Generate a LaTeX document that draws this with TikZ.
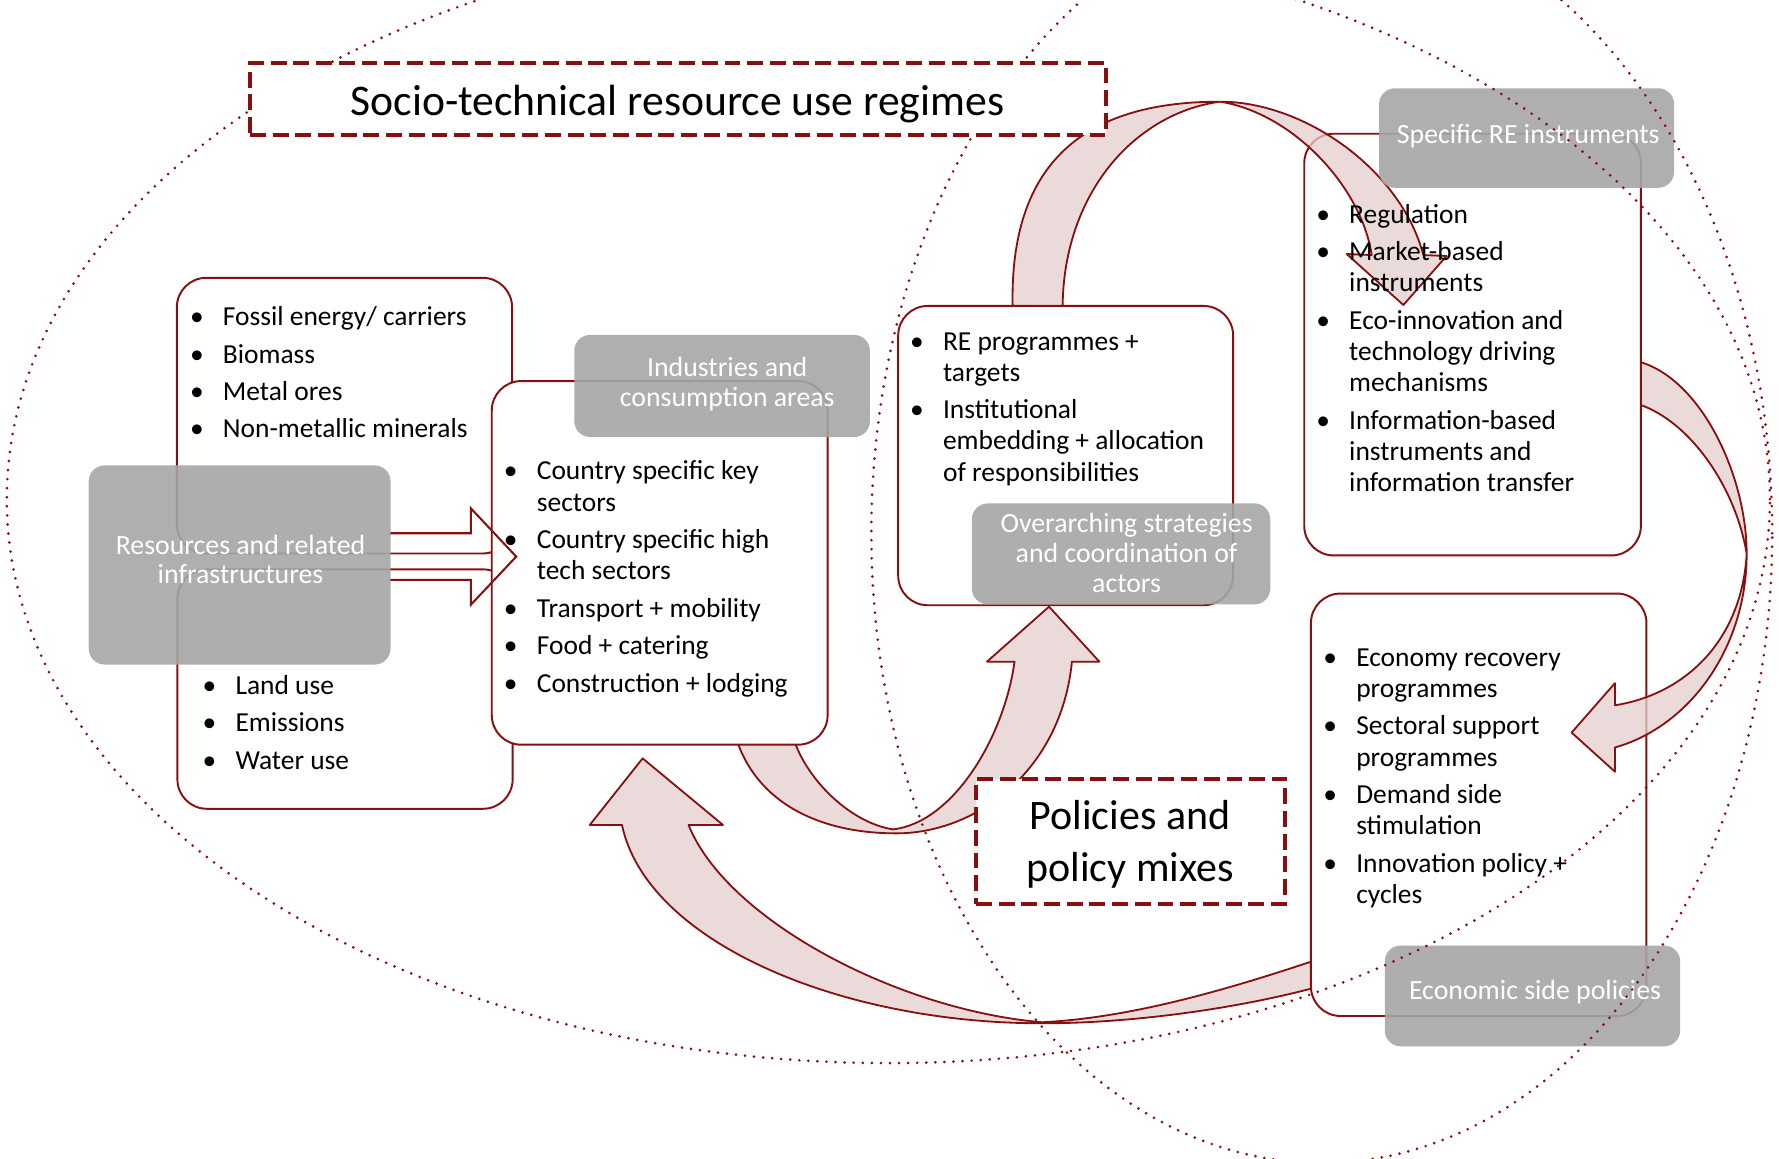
\documentclass[tikz,border=0pt]{standalone}
\usepackage{fontspec}
\setmainfont{Carlito}
\definecolor{dred}{RGB}{135,15,15}
\definecolor{lgray}{RGB}{166,166,166}
\definecolor{apink}{RGB}{228,206,206}
\newcommand{\blist}[1]{\begin{tabular}[t]{@{}p{29pt}@{}l@{}}#1\end{tabular}}
\newcommand{\clines}[1]{\begin{tabular}[t]{@{}c@{}}#1\end{tabular}}
\newcommand{\isep}{\\[5.5pt]}
\begin{document}
\begin{tikzpicture}[x=1pt,y=-1pt,
  wbox/.style={draw=dred, line width=1.7pt, fill=white, rounded corners=26pt, inner sep=0pt, anchor=north west},
  glabel/.style={fill=lgray, fill opacity=0.9, rounded corners=14pt, inner sep=0pt, anchor=north west},
  dbox/.style={draw=dred, line width=3.5pt, dash pattern=on 14pt off 6pt, fill=white, inner sep=0pt, anchor=north west},
  ltext/.style={anchor=base west, inner sep=0pt, font=\fontsize{24.2}{27.5}\selectfont},
  wtext/.style={anchor=base, inner sep=0pt, text=white, font=\fontsize{24.5}{26.5}\selectfont},
  btext/.style={anchor=base, inner sep=0pt, font=\fontsize{37}{45.5}\selectfont},
  barrow/.style={draw=dred, line width=1.6pt, fill=apink, fill opacity=0.75, line join=round},
  dots/.style={draw=dred, line width=2.6pt, dash pattern=on 0pt off 8pt, line cap=round}
]
\useasboundingbox (0,0) rectangle (1568,1021);

% arrow from economic box to industries box (bottom)
\filldraw[barrow] (548.2,727.1) -- (519.8,727.1) -- (566.4,668.4) -- (637.2,727.1) -- (606.9,727.1)
  .. controls (640,810) and (790,890) .. (918.4,901)
  .. controls (1000,897) and (1090,870) .. (1175,841)
  -- (1175,866)
  .. controls (1100,888) and (1000,902) .. (918.4,901.9)
  .. controls (740,902) and (570,830) .. (548.2,727.1) -- cycle;

% arrow from industries box to strategies
\filldraw[barrow] (645,642) -- (651.4,658) .. controls (672,710) and (725,734.5) .. (790,734.5)
  .. controls (860,734.5) and (935,680) .. (944.8,583.2)
  -- (969,583.2) -- (924.6,534.7) -- (869.9,583.2) -- (894.2,583.2)
  .. controls (885,650) and (840,725) .. (787,731)
  .. controls (750,725) and (715,690) .. (702,658) -- (696,643) -- cycle;

% white boxes
\node[wbox, minimum width=295.5pt, minimum height=243pt] (a1) at (155,244) {};
\node[wbox, minimum width=295.5pt, minimum height=211pt] (a2) at (155.5,501) {};
\node[wbox, minimum width=296pt, minimum height=320.5pt] (ind) at (432.6,335) {};
\node[wbox, minimum width=295.7pt, minimum height=372.3pt] (econ) at (1154.6,522.3) {};

% arrow from specific instruments to economic box
\filldraw[barrow] (1430,315) -- (1445.4,319) .. controls (1500,335) and (1539.5,420) .. (1539.5,488.2)
  .. controls (1539.5,570) and (1490,640) .. (1423.4,658.8)
  -- (1423.4,680.2) -- (1385.2,645.7) -- (1423.4,602.1) -- (1423.4,621.6)
  .. controls (1485,612) and (1535,565) .. (1539.5,488.2)
  .. controls (1530,430) and (1490,372) .. (1445.4,356.7) -- (1430,352) -- cycle;

\node[wbox, minimum width=296.7pt, minimum height=371.7pt] (spec) at (1148.7,117) {};

% arrow from RE programmes to specific instruments (top)
\filldraw[barrow] (892.5,285) -- (892.5,268.8) .. controls (890,135) and (965,89.6) .. (1075.3,89.6)
  .. controls (1150,89.6) and (1235,150) .. (1254.5,224.8)
  -- (1275,225.6) -- (1236.9,268.8) -- (1187,223.9) -- (1209,224.8)
  .. controls (1200,165) and (1140,100) .. (1075.3,89.6)
  .. controls (1000,100) and (938,170) .. (936.6,268.8) -- (936.6,285) -- cycle;

\node[wbox, minimum width=295.2pt, minimum height=263.8pt] (re) at (790.8,268.8) {};

% straight arrow resources -> industries
\draw[dred, line width=1.8pt, line join=miter] (343,470) -- (415,470) -- (415,448) -- (455,490.6) -- (415,533) -- (415,511) -- (343,511);

% grey labels
\node[glabel, minimum width=266pt, minimum height=175.5pt] (lres) at (78,410) {};
\node[glabel, minimum width=260.5pt, minimum height=90pt] (lind) at (506,295) {};
\node[glabel, minimum width=263pt, minimum height=89pt] (lover) at (856.4,443.5) {};
\node[glabel, minimum width=260pt, minimum height=87.7pt] (lspec) at (1215.3,77.6) {};
\node[glabel, minimum width=260.4pt, minimum height=88.8pt] (lecon) at (1220.3,833.2) {};

\node[wtext, font=\fontsize{24.5}{25}\selectfont] (tres) at (212,489) {\clines{Resources and related\\infrastructures}};
\node[wtext] (tind) at (641,332) {\clines{Industries and\\consumption areas}};
\node[wtext] (tover) at (993,469) {\clines{Overarching strategies\\and coordination of\\actors}};
\node[wtext] (tspec) at (1347,126.3) {Specific RE instruments};
\node[wtext] (tecon) at (1353,881) {Economic side policies};

% list texts
\node[ltext] (a1t) at (167.3,287) {\blist{\textbullet & Fossil energy/ carriers\isep
\textbullet & Biomass\isep
\textbullet & Metal ores\isep
\textbullet & Non-metallic minerals}};
\node[ltext] (a2t) at (178.4,612) {\blist{\textbullet & Land use\isep
\textbullet & Emissions\isep
\textbullet & Water use}};
\node[ltext] (indt) at (444,423) {\blist{\textbullet & Country specific key\\ & sectors\isep
\textbullet & Country specific high\\ & tech sectors\isep
\textbullet & Transport + mobility\isep
\textbullet & Food + catering\isep
\textbullet & Construction + lodging}};
\node[ltext] (ret) at (802,308.6) {\blist{\textbullet & RE programmes +\\ & targets\isep
\textbullet & Institutional\\ & embedding + allocation\\ & of responsibilities}};
\node[ltext] (spect) at (1160,196.8) {\blist{\textbullet & Regulation\isep
\textbullet & Market-based\\ & instruments\isep
\textbullet & Eco-innovation and\\ & technology driving\\ & mechanisms\isep
\textbullet & Information-based\\ & instruments and\\ & information transfer}};
\node[ltext] (econt) at (1166.2,587.3) {\blist{\textbullet & Economy recovery\\ & programmes\isep
\textbullet & Sectoral support\\ & programmes\isep
\textbullet & Demand side\\ & stimulation\isep
\textbullet & Innovation policy +\\ & cycles}};

% dotted domains
\begin{scope}
\clip (0,0) rectangle (1568,1021);
\draw[dots] (783,440) ellipse [x radius=777pt, y radius=497pt];
\draw[dots] (1165,470) ellipse [x radius=397pt, y radius=555pt];
\end{scope}

% dashed title boxes
\node[dbox, minimum width=754.3pt, minimum height=63.7pt] (title) at (218.6,53.8) {};
\node[anchor=base, inner sep=0pt, font=\fontsize{38.5}{45}\selectfont] (ttitle) at (597,101.4) {Socio-technical resource use regimes};
\node[dbox, minimum width=272.3pt, minimum height=110.2pt] (pol) at (858.5,684.5) {};
\node[btext] (tpol) at (996,731.5) {\clines{Policies and\\policy mixes}};
\end{tikzpicture}
\end{document}
